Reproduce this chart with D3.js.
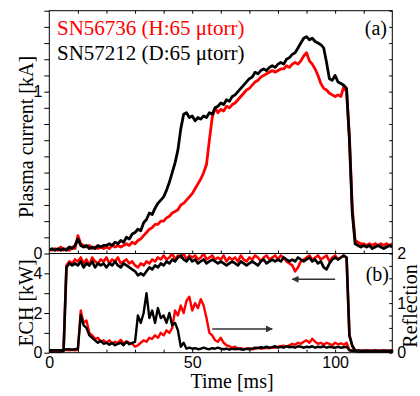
<!DOCTYPE html>
<html><head><meta charset="utf-8">
<script src="https://cdn.jsdelivr.net/npm/d3@7"></script>
<style>body{margin:0;background:#fff}svg{display:block}</style>
</head><body><svg id="c" width="420" height="396"></svg>
<script>
const timeMs = d3.range(0, 121, 1);
const xTicks = [0, 50, 100];
const currentTicks = [0, 1];
const echTicks = [0, 2, 4];
const reflTicks = [0, 1, 2];
const legendLabels = ["SN56736 (H:65 \u03bctorr)", "SN57212 (D:65 \u03bctorr)"];

// Plasma current [kA]
const currentH = [
0.03,0.02,0.03,0.02,0.04,0.02,0.03,0.02,0.04,0.03,
0.11,0.06,0.05,0.04,0.05,0.03,0.04,0.03,0.04,0.03,
0.04,0.03,0.05,0.04,0.05,0.04,0.05,0.06,0.05,0.07,
0.06,0.08,0.09,0.11,0.13,0.15,0.16,0.18,0.18,0.20,
0.20,0.22,0.23,0.25,0.26,0.27,0.30,0.31,0.33,0.35,
0.37,0.40,0.43,0.46,0.50,0.55,0.70,0.84,0.90,0.87,
0.89,0.88,0.91,0.90,0.92,0.93,0.95,0.97,0.99,1.01,
1.02,1.04,1.06,1.07,1.09,1.10,1.11,1.12,1.13,1.12,
1.13,1.14,1.14,1.16,1.15,1.17,1.18,1.17,1.19,1.22,
1.24,1.19,1.17,1.14,1.10,1.05,1.02,1.01,0.99,0.98,
0.97,0.98,0.97,1.03,1.00,0.72,0.28,0.08,0.07,0.06,
0.06,0.05,0.06,0.05,0.06,0.05,0.06,0.05,0.06,0.05,0.06];
const currentD = [
0.02,0.03,0.02,0.03,0.02,0.03,0.02,0.04,0.03,0.05,
0.09,0.05,0.04,0.05,0.03,0.04,0.03,0.05,0.04,0.05,
0.05,0.06,0.05,0.07,0.06,0.08,0.07,0.10,0.09,0.12,
0.13,0.15,0.14,0.19,0.21,0.25,0.24,0.28,0.31,0.33,
0.35,0.39,0.44,0.50,0.56,0.64,0.77,0.86,0.87,0.84,
0.85,0.82,0.84,0.83,0.85,0.84,0.87,0.86,0.90,0.91,
0.93,0.92,0.95,0.94,0.97,0.98,1.00,1.02,1.04,1.06,
1.08,1.09,1.12,1.11,1.13,1.14,1.13,1.15,1.16,1.15,
1.17,1.18,1.17,1.20,1.21,1.23,1.24,1.27,1.30,1.33,
1.34,1.32,1.33,1.31,1.30,1.29,1.27,1.18,1.08,1.07,
1.10,1.06,1.05,1.04,1.02,0.70,0.25,0.06,0.05,0.04,
0.05,0.04,0.05,0.03,0.04,0.05,0.04,0.03,0.04,0.05,0.04];

// ECH power [kW]
const echH = [
0,0,0,0,0,0.2,4.4,4.6,4.5,4.7,
4.6,4.8,4.5,4.7,4.4,4.8,4.6,4.5,4.7,4.6,
4.8,4.5,4.7,4.6,4.8,4.5,4.6,4.7,4.5,4.6,
4.4,4.3,4.5,4.4,4.6,4.5,4.7,4.6,4.8,4.7,
4.9,4.7,4.8,5.0,4.7,4.9,4.8,5.0,4.7,4.9,
4.8,4.9,4.7,4.8,5.0,4.7,4.8,4.9,4.7,4.8,
4.7,4.9,4.6,4.8,4.7,4.8,4.6,4.9,4.7,4.6,
4.8,4.7,4.9,4.8,4.6,4.8,4.9,4.7,4.8,4.9,
4.7,4.9,4.8,4.6,4.5,4.4,4.1,4.3,4.6,4.7,
4.8,4.9,4.7,4.8,4.9,4.7,4.8,4.9,4.6,4.8,
4.9,4.7,4.8,4.9,4.8,0.9,0.35,0.1,0.02,0,
0,0,0,0,0,0,0,0,0,0,0];
const echD = [
0,0,0,0,0,0.1,4.3,4.5,4.4,4.5,
4.4,4.6,4.3,4.5,4.4,4.6,4.3,4.5,4.4,4.5,
4.3,4.5,4.4,4.6,4.4,4.3,4.5,4.4,4.3,4.2,
4.1,3.9,4.0,3.9,4.1,4.3,4.2,4.4,4.3,4.5,
4.4,4.6,4.5,4.7,4.6,4.8,4.9,4.7,4.6,4.8,
4.6,4.7,4.5,4.6,4.7,4.5,4.6,4.7,4.6,4.5,
4.6,4.5,4.4,4.5,4.6,4.5,4.4,4.6,4.5,4.4,
4.5,4.6,4.5,4.4,4.6,4.7,4.5,4.6,4.7,4.6,
4.7,4.6,4.8,4.7,4.6,4.7,4.6,4.8,4.7,4.6,
4.7,4.8,4.6,4.7,4.5,4.6,4.3,4.2,4.5,4.7,
4.8,4.7,4.8,4.9,4.8,0.85,0.35,0.1,0.02,0,
0,0,0,0,0,0,0,0,0,0,0];

// Reflection
const reflH = [
0.04,0.04,0.05,0.04,0.05,0.05,0.06,0.05,0.06,0.05,
0.06,0.85,0.60,0.65,0.40,0.35,0.28,0.30,0.22,0.25,
0.20,0.25,0.18,0.22,0.20,0.26,0.19,0.23,0.20,0.18,
0.12,0.15,0.20,0.25,0.22,0.30,0.28,0.35,0.30,0.40,
0.35,0.45,0.40,0.50,0.85,0.75,0.95,0.80,1.05,1.13,
0.85,1.00,0.90,1.08,0.95,0.70,0.40,0.35,0.25,0.22,
0.30,0.20,0.15,0.13,0.10,0.12,0.08,0.09,0.07,0.08,
0.09,0.07,0.08,0.10,0.08,0.09,0.10,0.09,0.11,0.10,
0.12,0.13,0.14,0.12,0.15,0.18,0.16,0.20,0.18,0.22,
0.25,0.20,0.28,0.22,0.18,0.20,0.16,0.20,0.18,0.15,
0.20,0.17,0.19,0.16,0.20,0.05,0.04,0.04,0.05,0.04,
0.04,0.05,0.04,0.04,0.05,0.04,0.04,0.05,0.04,0.04,0.05];
const reflD = [
0.05,0.05,0.05,0.05,0.05,0.05,0.07,0.07,0.06,0.07,
0.08,0.76,0.55,0.50,0.35,0.30,0.25,0.20,0.24,0.18,
0.20,0.16,0.20,0.15,0.18,0.20,0.15,0.22,0.17,0.20,
0.22,0.75,0.60,0.80,1.20,0.70,0.85,0.60,0.90,0.70,
0.75,0.60,0.80,0.55,0.60,0.45,0.12,0.20,0.08,0.10,
0.08,0.09,0.07,0.08,0.10,0.08,0.07,0.09,0.08,0.10,
0.08,0.07,0.08,0.06,0.08,0.07,0.08,0.07,0.06,0.08,
0.07,0.08,0.10,0.09,0.11,0.10,0.12,0.10,0.11,0.13,
0.10,0.12,0.10,0.13,0.11,0.12,0.10,0.13,0.12,0.10,
0.12,0.11,0.13,0.10,0.12,0.11,0.13,0.10,0.12,0.11,
0.10,0.12,0.10,0.11,0.12,0.05,0.04,0.04,0.04,0.04,
0.04,0.04,0.04,0.04,0.04,0.04,0.04,0.04,0.04,0.04,0.04];

// annotation arrows (data coords)
const arrowEch = {from: 100, to: 85, value: 3.7};      // points to left axis
const arrowRefl = {from: 57, to: 78, value: 0.48};     // points to right axis

// ---- layout ----
const L = 49.3, R = 392.3, T1 = 10.7, B1 = 253.5, B2 = 352.7;
const RED = "#ff0000", BLK = "#000000";
const serif = "'Liberation Serif','Times New Roman',serif";
const sans = "'Liberation Sans',Arial,sans-serif";

const svg = d3.select("#c");
const x = d3.scaleLinear([0, 120], [L, R]);
const yI = d3.scaleLinear([0, 1.5], [B1, T1]);
const yP = d3.scaleLinear([0, 5], [B2, B1]);
const yR = d3.scaleLinear([0, 2], [B2, B1]);

const defs = svg.append("defs");
defs.append("clipPath").attr("id", "clipA").append("rect").attr("x", L).attr("y", T1).attr("width", R - L).attr("height", B1 - T1);
defs.append("clipPath").attr("id", "clipB").append("rect").attr("x", L).attr("y", B1).attr("width", R - L).attr("height", B2 - B1);
defs.append("marker").attr("id", "ah").attr("viewBox", "0 0 10 10").attr("refX", 9).attr("refY", 5)
  .attr("markerWidth", 9).attr("markerHeight", 7).attr("markerUnits", "userSpaceOnUse").attr("orient", "auto")
  .append("path").attr("d", "M0,0L10,5L0,10Z").attr("fill", "#333");

function drawLine(g, vals, y, color, w) {
  const line = d3.line().x((d, i) => x(timeMs[i])).y(d => y(d));
  g.append("path").datum(vals).attr("d", line).attr("fill", "none")
    .attr("stroke", color).attr("stroke-width", w).attr("stroke-linejoin", "round");
}

// panel (a)
const gA = svg.append("g").attr("clip-path", "url(#clipA)");
drawLine(gA, currentH, yI, RED, 2.8);
drawLine(gA, currentD, yI, BLK, 2.8);

// panel (b)
const gB = svg.append("g").attr("clip-path", "url(#clipB)");
drawLine(gB, echH, yP, RED, 2.6);
drawLine(gB, reflH, yR, RED, 2.4);
drawLine(gB, echD, yP, BLK, 2.6);
drawLine(gB, reflD, yR, BLK, 2.4);

// arrows
svg.append("line").attr("x1", x(arrowEch.from)).attr("x2", x(arrowEch.to))
  .attr("y1", yP(arrowEch.value)).attr("y2", yP(arrowEch.value))
  .attr("stroke", "#333").attr("stroke-width", 1.5).attr("marker-end", "url(#ah)");
svg.append("line").attr("x1", x(arrowRefl.from)).attr("x2", x(arrowRefl.to))
  .attr("y1", yR(arrowRefl.value)).attr("y2", yR(arrowRefl.value))
  .attr("stroke", "#333").attr("stroke-width", 1.5).attr("marker-end", "url(#ah)");

// frames
svg.append("rect").attr("x", L).attr("y", T1).attr("width", R - L).attr("height", B1 - T1)
  .attr("fill", "none").attr("stroke", "#000").attr("stroke-width", 1);
svg.append("rect").attr("x", L).attr("y", B1).attr("width", R - L).attr("height", B2 - B1)
  .attr("fill", "none").attr("stroke", "#000").attr("stroke-width", 1);

function styleAxis(g) {
  g.select(".domain").remove();
  g.selectAll("text").attr("font-family", sans).attr("font-size", 16).attr("fill", "#000");
  g.selectAll("line").attr("stroke", "#000");
}
const fmtSome = list => d => list.some(v => Math.abs(v - d) < 1e-6) ? d3.format("d")(d) : "";

// top panel axes
svg.append("g").attr("transform", `translate(${L},0)`)
  .call(d3.axisLeft(yI).tickValues(d3.range(0, 1.501, 0.1)).tickSize(5).tickPadding(2).tickFormat(fmtSome(currentTicks)))
  .call(styleAxis);
svg.append("g").attr("transform", `translate(${R},0)`)
  .call(d3.axisRight(yI).tickValues(d3.range(0.1, 1.501, 0.1)).tickSize(-3).tickFormat(""))
  .call(styleAxis);
svg.append("g").attr("transform", `translate(0,${T1})`)
  .call(d3.axisTop(x).tickValues(d3.range(10, 120, 10)).tickSize(-3).tickFormat(""))
  .call(styleAxis);
svg.append("g").attr("transform", `translate(0,${B1})`)
  .call(d3.axisBottom(x).tickValues(d3.range(10, 120, 10)).tickSize(-3).tickFormat(""))
  .call(styleAxis);

// bottom panel axes
svg.append("g").attr("transform", `translate(${L},0)`)
  .call(d3.axisLeft(yP).tickValues([0, 1, 2, 3, 4]).tickSize(5).tickPadding(2).tickFormat(fmtSome(echTicks)))
  .call(styleAxis);
svg.append("g").attr("transform", `translate(${R},0)`)
  .call(d3.axisRight(yR).tickValues(d3.range(0, 2.01, 0.25)).tickSize(-3).tickPadding(5).tickFormat(fmtSome(reflTicks)))
  .call(styleAxis);
svg.append("g").attr("transform", `translate(0,${B2})`)
  .call(d3.axisBottom(x).tickValues(d3.range(0, 121, 10)).tickSize(-3).tickPadding(4).tickFormat(fmtSome(xTicks)))
  .call(styleAxis);

// titles
svg.append("text").attr("x", 232).attr("y", 388).attr("text-anchor", "middle")
  .attr("font-family", serif).attr("font-size", 20).text("Time [ms]");
svg.append("text").attr("transform", "translate(33,137) rotate(-90)").attr("text-anchor", "middle")
  .attr("font-family", serif).attr("font-size", 20).text("Plasma current [kA]");
svg.append("text").attr("transform", "translate(33,303) rotate(-90)").attr("text-anchor", "middle")
  .attr("font-family", serif).attr("font-size", 20).text("ECH [kW]");
svg.append("text").attr("transform", "translate(417,306) rotate(-90)").attr("text-anchor", "middle")
  .attr("font-family", serif).attr("font-size", 20).text("Reflection");

// legend and panel labels
svg.append("text").attr("x", 57).attr("y", 35).attr("font-family", serif).attr("font-size", 21)
  .attr("fill", RED).text(legendLabels[0]);
svg.append("text").attr("x", 57).attr("y", 60).attr("font-family", serif).attr("font-size", 21)
  .attr("fill", BLK).text(legendLabels[1]);
svg.append("text").attr("x", 387).attr("y", 35).attr("text-anchor", "end").attr("font-family", serif)
  .attr("font-size", 20).text("(a)");
svg.append("text").attr("x", 389).attr("y", 281).attr("text-anchor", "end").attr("font-family", serif)
  .attr("font-size", 20).text("(b)");
</script></body></html>
